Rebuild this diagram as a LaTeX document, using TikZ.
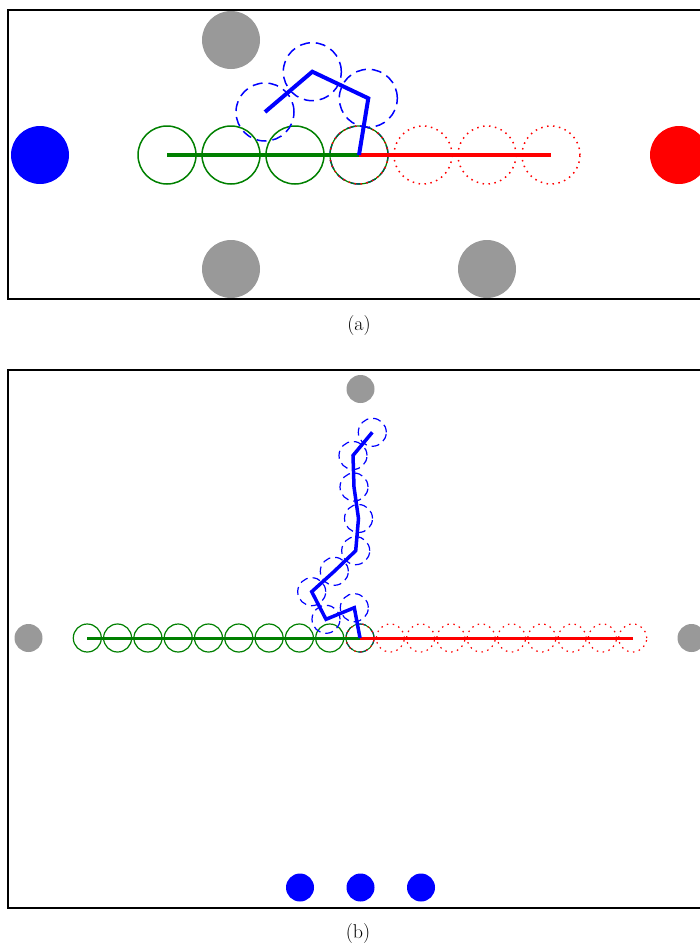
\documentclass[tikz,border=0pt]{standalone}
\usepackage{fontspec}
\usepackage{tikz}
\usetikzlibrary{positioning}

\begin{document}
\begin{tikzpicture}[x=1pt, y=-1pt,
  every node/.append style={inner sep=0pt, outer sep=0pt},
  frame/.style={draw=black, line width=2pt},
  disk/.style={circle, fill=#1},
  free/.style={circle, draw=green!50!black, line width=1.5pt},
  busy/.style={circle, draw=red, line width=1.5pt, dash pattern=on 1.5pt off 4.5pt},
  ghost/.style={circle, draw=blue, line width=1.5pt, dash pattern=on 10pt off 6pt},
  freeline/.style={draw=green!50!black, line width=3.5pt},
  busyline/.style={draw=red, line width=3.5pt},
  armline/.style={draw=blue, line width=4pt, line join=miter},
  big/.style={minimum size=58pt},
  small/.style={minimum size=28pt},
  caption/.style={font=\fontsize{20}{24}\selectfont}]
  \useasboundingbox (0,0) rectangle (700,945);

  % (a)
  \draw[frame] (8,10) rectangle (712,299);
  \node[disk=black!40, big] (oa1) at (231,40) {};
  \node[disk=black!40, big] (oa2) at (231,269) {};
  \node[disk=black!40, big] (oa3) at (487,269) {};
  \node[disk=blue, big] (sa) at (40,155) {};
  \node[disk=red, big] (ta) at (679,155) {};
  \foreach \i in {1,2,3} {
    \node[free, big] (ga\i) at (359-64*\i,155) {};
    \node[busy, big] (ra\i) at (359+64*\i,155) {};
  }
  \node[ghost, big] (ca) at (359,155) {};
  \node[free, big, line width=1.2pt] at (ca) {};
  \node[busy, big] at (ca) {};
  \draw[freeline] (ga3.center) -- (ca.center);
  \draw[busyline] (ca.center) -- (ra3.center);
  \node[ghost, big] (ja1) at (368.3,98.3) {};
  \node[ghost, big] (ja2) at (312.3,71.7) {};
  \node[ghost, big] (ja3) at (265,112) {};
  \draw[armline] (ca.center) -- (ja1.center) -- (ja2.center) -- (ja3.center);
  \node[caption] (capa) at (359,326) {(a)};

  % (b)
  \draw[frame] (8,370) rectangle (712,908);
  \node[disk=black!40, small] (ob1) at (28.5,638) {};
  \node[disk=black!40, small] (ob2) at (691.5,638) {};
  \node[disk=black!40, small] (ob3) at (360.5,389) {};
  \node[disk=blue, small] (sb1) at (300,887.5) {};
  \node[disk=blue, small] (sb2) at (360.5,887.5) {};
  \node[disk=blue, small] (sb3) at (421,887.5) {};
  \foreach \i in {1,...,9} {
    \node[free, small, line width=1.2pt] (gb\i) at (360-30.3*\i,638) {};
    \node[busy, small, line width=1.2pt] (rb\i) at (360+30.3*\i,638) {};
  }
  \node[ghost, small, line width=1.2pt] (cb) at (360,638) {};
  \node[free, small, line width=1pt] at (cb) {};
  \node[busy, small, line width=1.2pt] at (cb) {};
  \draw[freeline, line width=3pt] (gb9.center) -- (cb.center);
  \draw[busyline, line width=3pt] (cb.center) -- (rb9.center);
  \foreach \n/\p in {1/{354.3,607.7}, 2/{326,619.3}, 3/{311.7,591.7},
                     4/{334.3,571.3}, 5/{355.7,550.7}, 6/{358.5,518.5},
                     7/{354,487}, 8/{353,455.5}, 9/{372.3,432.3}}
    \node[ghost, small, line width=1.2pt, dash pattern=on 8pt off 5pt] (jb\n) at (\p) {};
  \draw[armline, line width=3.5pt] (cb.center) -- (jb1.center) -- (jb2.center) -- (jb3.center)
    -- (jb4.center) -- (jb5.center) -- (jb6.center) -- (jb7.center) -- (jb8.center) -- (jb9.center);
  \node[caption] (capb) at (358,933) {(b)};
\end{tikzpicture}
\end{document}
